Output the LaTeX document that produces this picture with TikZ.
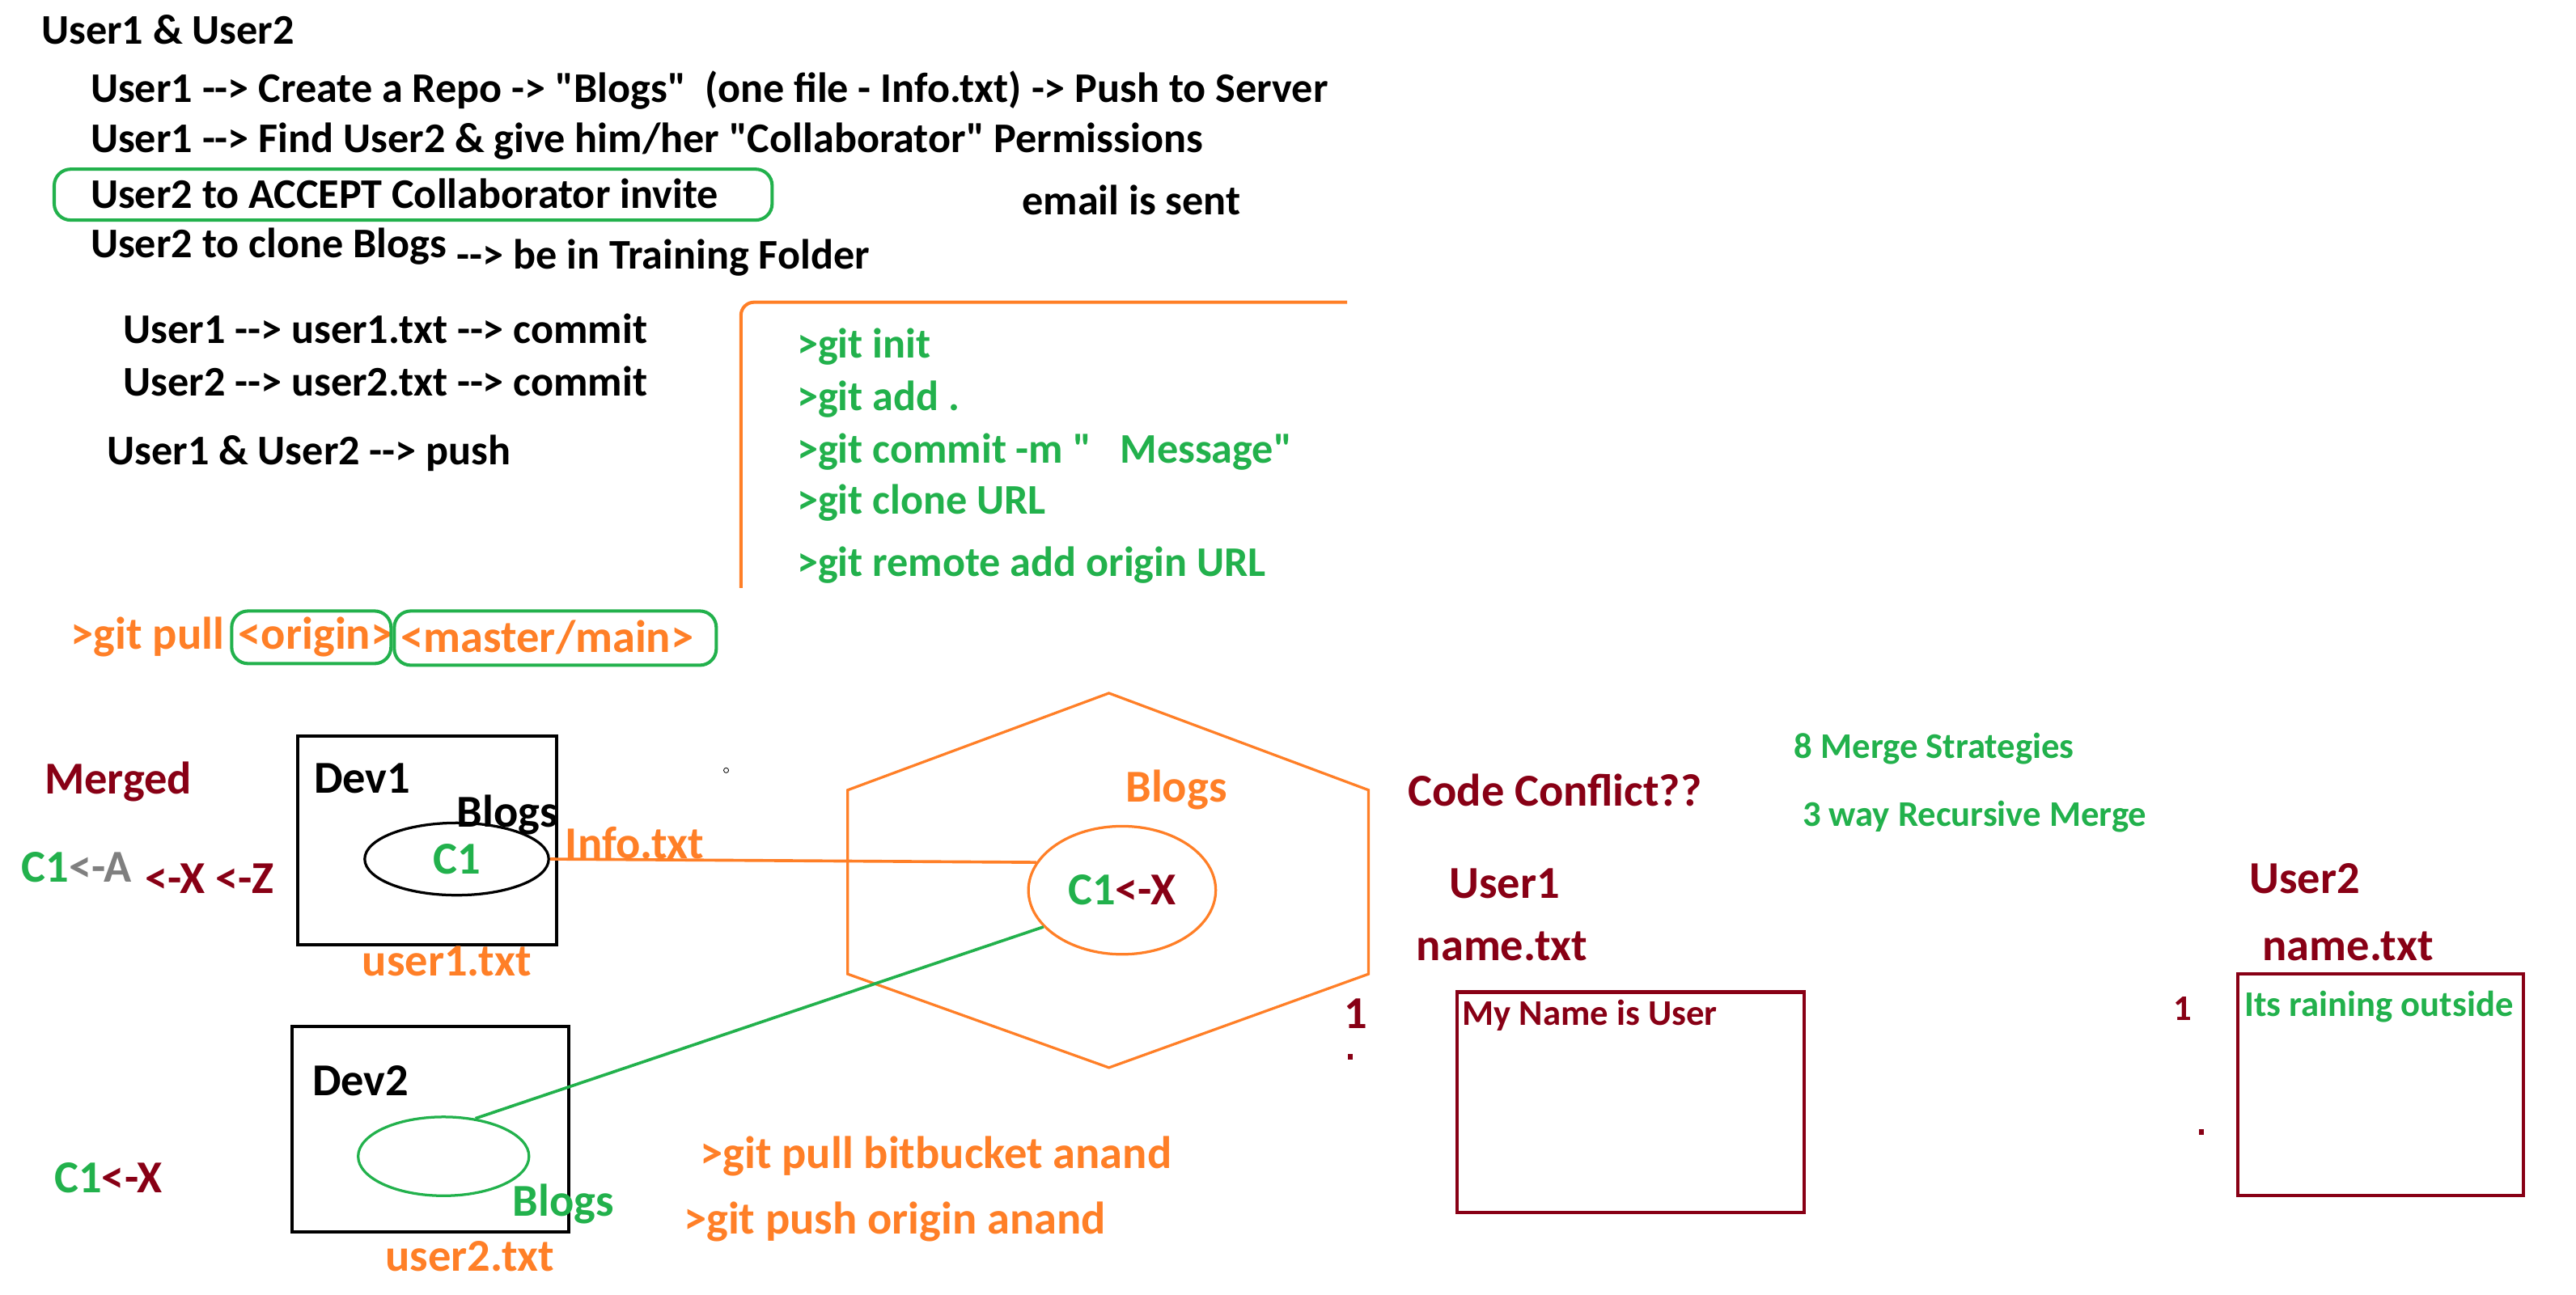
\documentclass[tikz,border=0pt]{standalone}
\usepackage{fontspec}
\setmainfont{Carlito}[Ligatures=TeXOff]
\usepackage{tikz}
\usetikzlibrary{shapes.geometric}
\definecolor{pgreen}{RGB}{34,177,76}
\definecolor{porange}{RGB}{255,127,39}
\definecolor{pred}{RGB}{136,0,21}
\definecolor{pgray}{RGB}{127,127,127}
\newcommand{\dd}{-\kern0pt-}

\begin{document}
\begin{tikzpicture}[x=1pt, y=-1pt, every node/.style={font=\bfseries\fontsize{27.8}{32}\selectfont, inner sep=0pt, anchor=west},
  note/.style={font=\bfseries\fontsize{25.7}{30}\selectfont},
  sm/.style={font=\bfseries\fontsize{22}{26}\selectfont},
  ring/.style={pgreen, line width=2pt, rounded corners=10pt},
  repo/.style={draw, ellipse, anchor=center, line width=1.6pt}]
  \useasboundingbox (0,0) rectangle (1568,788);
  \node[note] (title) at (25,18) {User1 \& User2};
  \node[note] (step1) at (55,55) {User1 \dd> Create a Repo -> "Blogs"\ \ (one file - Info.txt) -> Push to Server};
  \node[note] (step2) at (55,86) {User1 \dd> Find User2 \& give him/her "Collaborator" Permissions};
  \node[note] (step3) at (55,118) {User2 to ACCEPT Collaborator invite};
  \draw[ring] (33,103) rectangle (470,134);
  \node[note] (email) at (622,122) {email is sent};
  \node[note] (step4) at (55,150) {User2 to clone Blogs};
  \node[note] (folder) at (278,157) {\dd> be in Training Folder};
  \node[note] (commit1) at (75,200) {User1 \dd> user1.txt \dd> commit};
  \node[note] (commit2) at (75,232) {User2 \dd> user2.txt \dd> commit};
  \node[note] (push) at (65,276) {User1 \& User2 \dd> push};
  \draw[porange, line width=2pt, rounded corners=8pt] (451,358) -- (451,184) -- (820,184);
  \node[note, text=pgreen] (init) at (485,211) {>git init};
  \node[note, text=pgreen] (add) at (485,243) {>git add .};
  \node[note, text=pgreen] (gcommit) at (485,275) {>git commit -m "\ \ \ Message"};
  \node[note, text=pgreen] (clone) at (485,306) {>git clone URL};
  \node[note, text=pgreen] (remote) at (485,344) {>git remote add origin URL};
  \node[text=porange] (pull) at (43,388) {>git pull};
  \node[text=porange] (origin) at (145,388) {<origin>};
  \node[text=porange] (branch) at (244,388) {<master/main>};
  \draw[ring] (141,372) rectangle (238,404);
  \draw[ring] (240,372) rectangle (436,405);
  \node[text=pred] (merged) at (27,476) {Merged};
  \node (hist1) at (13,528) {\textcolor{pgreen}{C1}\textcolor{pgray}{<-A}};
  \node[text=pred] (hist1b) at (88,535) {<-X <-Z};
  \node (hist2) at (33,717) {\textcolor{pgreen}{C1}\textcolor{pred}{<-X}};
  \draw[line width=2pt] (181,448) rectangle (339,575);
  \node (dev1) at (191,474) {Dev1};
  \node[repo, minimum width=112, minimum height=44, text=pgreen] (dev1repo) at (278,523) {C1};
  \node (dev1name) at (278,496) {Blogs};
  \node[text=porange] (info) at (344,513) {Info.txt};
  \node[text=porange, anchor=center] (user1file) at (272,585) {user1.txt};
  \draw[line width=2pt] (178,625) rectangle (346,750);
  \node (dev2) at (190,658) {Dev2};
  \node[repo, pgreen, minimum width=104, minimum height=48] (dev2repo) at (270,704) {};
  \node[text=pgreen] (dev2name) at (312,733) {Blogs};
  \node[text=porange, anchor=center] (user2file) at (286,765) {user2.txt};
  \draw[porange, line width=1.6pt] (675,422) -- (833,481) -- (833,593) -- (675,650) -- (516,593) -- (516,481) -- cycle;
  \node[text=porange, anchor=center] (server) at (716,481) {Blogs};
  \node[repo, porange, minimum width=114, minimum height=78] (blogsrepo) at (683,542) {\textcolor{pgreen}{C1}\textcolor{pred}{<-X}};
  \draw[porange, line width=1.8pt] (dev1repo.east) -- (blogsrepo.162);
  \draw[pgreen, line width=1.8pt] (dev2repo.50) -- (blogsrepo.205);
  \draw (442,469) circle (1.5pt);
  \node[text=porange] (bbpull) at (426,704) {>git pull bitbucket anand};
  \node[text=porange] (orpush) at (416,744) {>git push origin anand};
  \node[text=pred] (conflict) at (857,481) {Code Conflict??};
  \node[sm, text=pgreen] (strategies) at (1092,456) {8 Merge Strategies};
  \node[sm, text=pgreen] (recursive) at (1097,497) {3 way Recursive Merge};
  \node[text=pred] (user1) at (882,538) {User1};
  \node[text=pred] (name1) at (862,576) {name.txt};
  \node[text=pred] (line1a) at (818,617) {1};
  \fill[pred] (820.5,641.5) rectangle (823.5,645);
  \draw[pred, line width=2pt] (887,604) rectangle (1098,738);
  \node[sm, text=pred] (content1) at (890,618) {My Name is User};
  \node[text=pred] (user2) at (1369,535) {User2};
  \node[text=pred] (name2) at (1377,576) {name.txt};
  \node[sm, text=pred] (line1b) at (1323,614) {1};
  \fill[pred] (1338.5,687.5) rectangle (1341.5,691);
  \draw[pred, line width=2pt] (1362,593) rectangle (1536,728);
  \node[sm, text=pgreen] (content2) at (1366,613) {Its raining outside};
\end{tikzpicture}
\end{document}
